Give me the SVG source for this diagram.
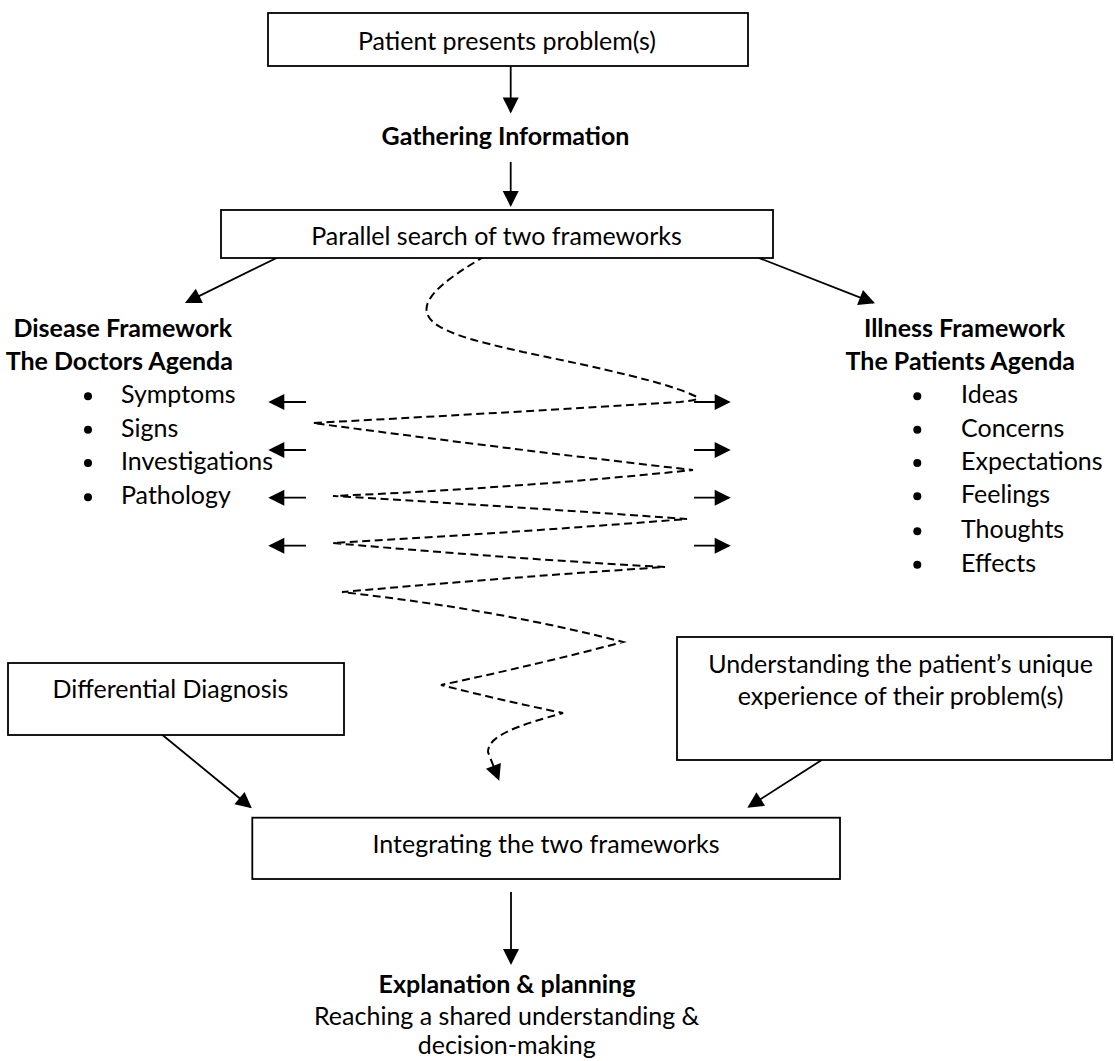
<svg xmlns="http://www.w3.org/2000/svg" width="1115" height="1061" viewBox="0 0 1115 1061">
<style>
  .box { fill: #fff; stroke: #000; stroke-width: 1.8; }
  .t { font-family: Lato, "Open Sans", sans-serif; font-size: 25px; fill: #000; }
  .b { font-family: Lato, "Open Sans", sans-serif; font-size: 25px; font-weight: bold; fill: #000; }
  .c { text-anchor: middle; }
  .e { text-anchor: end; }
  .ln { stroke: #000; stroke-width: 1.8; fill: none; marker-end: url(#ah); }
  .dash { stroke: #000; stroke-width: 2; fill: none; stroke-dasharray: 8 4.5; marker-end: url(#ah); }
  .dot { fill: #000; }
</style>
<defs>
  <marker id="ah" markerUnits="userSpaceOnUse" markerWidth="18" markerHeight="18" refX="14" refY="8" orient="auto" overflow="visible">
    <path d="M0,0 L16,8 L0,16 Z" fill="#000"/>
  </marker>
</defs>
<rect width="1115" height="1061" fill="#fff"/>

<g id="connectors">
  <line class="ln" x1="510.7" y1="66" x2="510.7" y2="111.5"/>
  <line class="ln" x1="510.7" y1="162" x2="510.7" y2="205"/>
  <line class="ln" x1="282.7" y1="255" x2="186.8" y2="302.1"/>
  <line class="ln" x1="754" y1="256" x2="873.1" y2="302.6"/>
  <line class="ln" x1="306" y1="402" x2="270.3" y2="402"/>
  <line class="ln" x1="306" y1="450" x2="270.3" y2="450"/>
  <line class="ln" x1="306" y1="497.7" x2="270.3" y2="497.7"/>
  <line class="ln" x1="306" y1="545.7" x2="270.3" y2="545.7"/>
  <line class="ln" x1="694" y1="402" x2="728.7" y2="402"/>
  <line class="ln" x1="694" y1="450" x2="728.7" y2="450"/>
  <line class="ln" x1="694" y1="497.7" x2="728.7" y2="497.7"/>
  <line class="ln" x1="694" y1="545.7" x2="728.7" y2="545.7"/>
  <path class="dash" d="M485,256 C455,274 422,295 427,313 C432,332 480,342 523,352 C600,368 670,383 697,397 C700,400 690,401 680,402 Q520,412 313,423 Q500,448 693,470 Q520,488 333,496 Q520,507 687,519 Q510,533 333,543 Q500,558 665,567 Q500,578 342,592 Q500,610 623,642 Q540,664 441,685 Q500,700 563,713 C520,725 488,735 488,752 L498.5,779"/>
  <line class="ln" x1="162.5" y1="735" x2="250.3" y2="807"/>
  <line class="ln" x1="821.7" y1="760" x2="749" y2="806.6"/>
  <line class="ln" x1="511" y1="892" x2="511" y2="963"/>
</g>

<g id="n-patient">
  <rect class="box" x="268" y="13" width="480" height="53"/>
  <text class="t c" x="507" y="50">Patient presents problem(s)</text>
</g>
<g id="n-gathering">
  <text class="b c" x="505.5" y="145">Gathering Information</text>
</g>
<g id="n-parallel">
  <rect class="box" x="221" y="210" width="552" height="48"/>
  <text class="t c" x="496.5" y="245">Parallel search of two frameworks</text>
</g>
<g id="n-disease">
  <text class="b e" x="232" y="336.5">Disease Framework</text>
  <text class="b e" x="233" y="370">The Doctors Agenda</text>
  <circle class="dot" cx="88" cy="396.3" r="4"/>
  <text class="t" x="121" y="403.3">Symptoms</text>
  <circle class="dot" cx="88" cy="429.7" r="4"/>
  <text class="t" x="121" y="436.7">Signs</text>
  <circle class="dot" cx="88" cy="463" r="4"/>
  <text class="t" x="121" y="470">Investigations</text>
  <circle class="dot" cx="88" cy="497.3" r="4"/>
  <text class="t" x="121" y="504.3">Pathology</text>
</g>
<g id="n-illness">
  <text class="b c" x="964.5" y="336.5">Illness Framework</text>
  <text class="b c" x="960.3" y="370">The Patients Agenda</text>
  <circle class="dot" cx="917.3" cy="396.3" r="4"/>
  <text class="t" x="961" y="403.3">Ideas</text>
  <circle class="dot" cx="917.3" cy="429.7" r="4"/>
  <text class="t" x="961" y="436.7">Concerns</text>
  <circle class="dot" cx="917.3" cy="463" r="4"/>
  <text class="t" x="961" y="470">Expectations</text>
  <circle class="dot" cx="917.3" cy="496.3" r="4"/>
  <text class="t" x="961" y="503.3">Feelings</text>
  <circle class="dot" cx="917.3" cy="531.3" r="4"/>
  <text class="t" x="961" y="538.3">Thoughts</text>
  <circle class="dot" cx="917.3" cy="564.7" r="4"/>
  <text class="t" x="961" y="571.7">Effects</text>
</g>
<g id="n-differential">
  <rect class="box" x="8" y="663" width="336" height="72"/>
  <text class="t c" x="170.5" y="698.3">Differential Diagnosis</text>
</g>
<g id="n-understanding">
  <rect class="box" x="677" y="637" width="435" height="123"/>
  <text class="t c" x="900.6" y="673.3">Understanding the patient’s unique</text>
  <text class="t c" x="900.6" y="705">experience of their problem(s)</text>
</g>
<g id="n-integrating">
  <rect class="box" x="252.3" y="817.7" width="587.7" height="61.3"/>
  <text class="t c" x="546" y="853.3">Integrating the two frameworks</text>
</g>
<g id="n-explanation">
  <text class="b c" x="507" y="993.3">Explanation &amp; planning</text>
  <text class="t c" x="506.7" y="1025">Reaching a shared understanding &amp;</text>
  <text class="t c" x="506.7" y="1053.5">decision-making</text>
</g>
</svg>
